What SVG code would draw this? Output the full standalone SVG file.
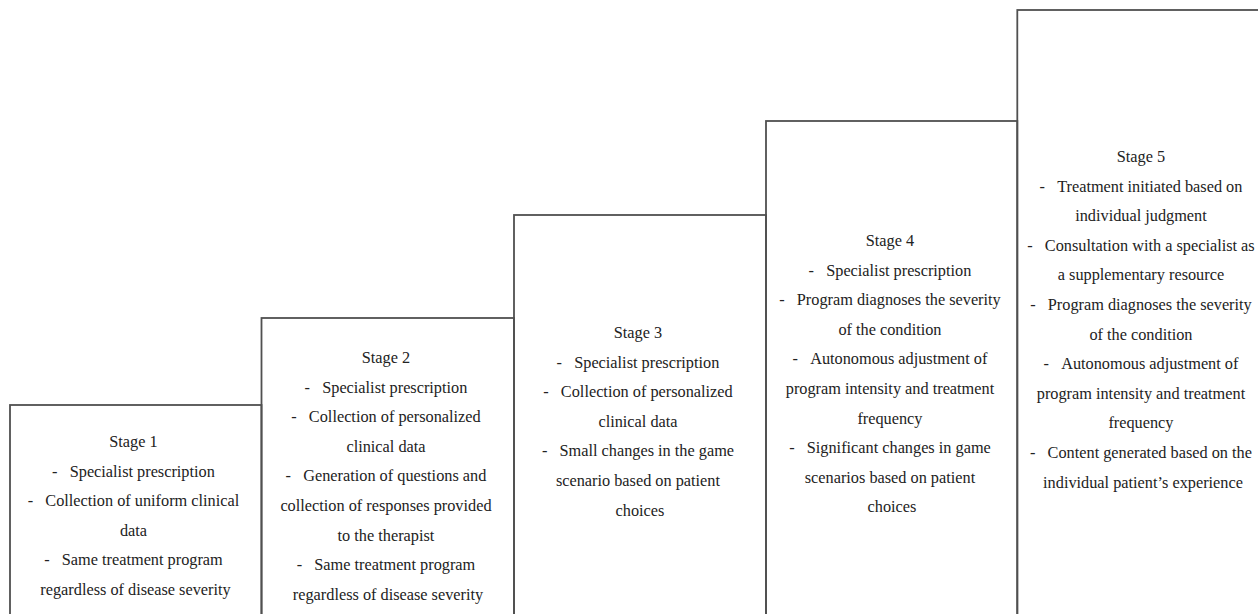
<svg xmlns="http://www.w3.org/2000/svg" width="1258" height="614" viewBox="0 0 1258 614">
<style>
.box{fill:none;stroke:#505050;stroke-width:1.8}
text{font-family:'Liberation Serif',Tinos,'Times New Roman',Times,'DejaVu Serif',serif;font-size:16.3px;fill:#222;text-anchor:middle}
</style>
<rect x="0" y="0" width="1258" height="614" fill="#fff"/>
<g id="stage1">
<rect class="box" x="10" y="405" width="251.5" height="240"/>
<text font-family="Liberation Serif, serif" y="447">
<tspan x="135.5">Stage 1</tspan>
<tspan x="135.5" dy="29.6">-&#160;&#160;&#160;Specialist prescription</tspan>
<tspan x="135.5" dy="29.6">-&#160;&#160;&#160;Collection of uniform clinical</tspan>
<tspan x="135.5" dy="29.6">data</tspan>
<tspan x="135.5" dy="29.6">-&#160;&#160;&#160;Same treatment program</tspan>
<tspan x="135.5" dy="29.6">regardless of disease severity</tspan>
</text>
</g>
<g id="stage2">
<rect class="box" x="261.5" y="318" width="252.5" height="330"/>
<text font-family="Liberation Serif, serif" y="363">
<tspan x="388">Stage 2</tspan>
<tspan x="388" dy="29.6">-&#160;&#160;&#160;Specialist prescription</tspan>
<tspan x="388" dy="29.6">-&#160;&#160;&#160;Collection of personalized</tspan>
<tspan x="388" dy="29.6">clinical data</tspan>
<tspan x="388" dy="29.6">-&#160;&#160;&#160;Generation of questions and</tspan>
<tspan x="388" dy="29.6">collection of responses provided</tspan>
<tspan x="388" dy="29.6">to the therapist</tspan>
<tspan x="388" dy="29.6">-&#160;&#160;&#160;Same treatment program</tspan>
<tspan x="388" dy="29.6">regardless of disease severity</tspan>
</text>
</g>
<g id="stage3">
<rect class="box" x="514" y="215" width="252" height="430"/>
<text font-family="Liberation Serif, serif" y="338">
<tspan x="640">Stage 3</tspan>
<tspan x="640" dy="29.6">-&#160;&#160;&#160;Specialist prescription</tspan>
<tspan x="640" dy="29.6">-&#160;&#160;&#160;Collection of personalized</tspan>
<tspan x="640" dy="29.6">clinical data</tspan>
<tspan x="640" dy="29.6">-&#160;&#160;&#160;Small changes in the game</tspan>
<tspan x="640" dy="29.6">scenario based on patient</tspan>
<tspan x="640" dy="29.6">choices</tspan>
</text>
</g>
<g id="stage4">
<rect class="box" x="766" y="121" width="251.3" height="520"/>
<text font-family="Liberation Serif, serif" y="246">
<tspan x="892">Stage 4</tspan>
<tspan x="892" dy="29.6">-&#160;&#160;&#160;Specialist prescription</tspan>
<tspan x="892" dy="29.6">-&#160;&#160;&#160;Program diagnoses the severity</tspan>
<tspan x="892" dy="29.6">of the condition</tspan>
<tspan x="892" dy="29.6">-&#160;&#160;&#160;Autonomous adjustment of</tspan>
<tspan x="892" dy="29.6">program intensity and treatment</tspan>
<tspan x="892" dy="29.6">frequency</tspan>
<tspan x="892" dy="29.6">-&#160;&#160;&#160;Significant changes in game</tspan>
<tspan x="892" dy="29.6">scenarios based on patient</tspan>
<tspan x="892" dy="29.6">choices</tspan>
</text>
</g>
<g id="stage5">
<rect class="box" x="1017.3" y="10" width="252" height="640"/>
<text font-family="Liberation Serif, serif" y="162">
<tspan x="1143">Stage 5</tspan>
<tspan x="1143" dy="29.6">-&#160;&#160;&#160;Treatment initiated based on</tspan>
<tspan x="1143" dy="29.6">individual judgment</tspan>
<tspan x="1143" dy="29.6">-&#160;&#160;&#160;Consultation with a specialist as</tspan>
<tspan x="1143" dy="29.6">a supplementary resource</tspan>
<tspan x="1143" dy="29.6">-&#160;&#160;&#160;Program diagnoses the severity</tspan>
<tspan x="1143" dy="29.6">of the condition</tspan>
<tspan x="1143" dy="29.6">-&#160;&#160;&#160;Autonomous adjustment of</tspan>
<tspan x="1143" dy="29.6">program intensity and treatment</tspan>
<tspan x="1143" dy="29.6">frequency</tspan>
<tspan x="1143" dy="29.6">-&#160;&#160;&#160;Content generated based on the</tspan>
<tspan x="1143" dy="29.6">individual patient’s experience</tspan>
</text>
</g>
<g id="connectors"></g>
</svg>
